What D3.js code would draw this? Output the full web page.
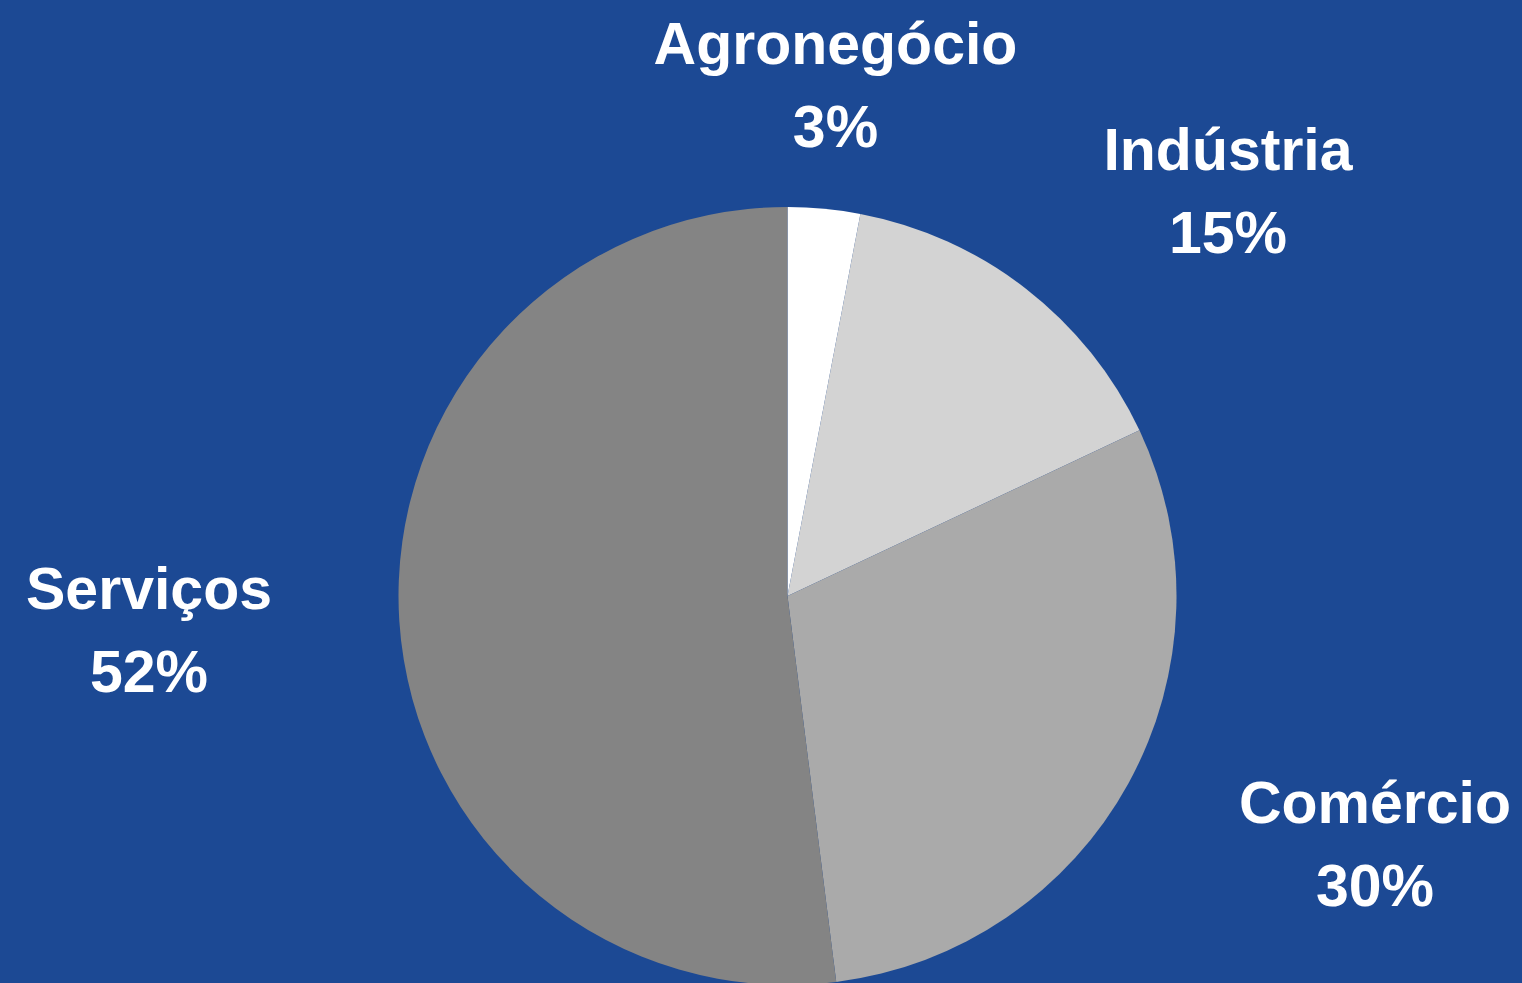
<!DOCTYPE html>
<html>
<head>
<meta charset="utf-8">
<script src="https://cdn.jsdelivr.net/npm/d3@7"></script>
<style>
html,body{margin:0;padding:0;background:#1c4994;overflow:hidden;}
svg{display:block;}
</style>
</head>
<body>
<svg id="chart" width="1522" height="983"></svg>
<script>
const categories = ["Agronegócio", "Indústria", "Comércio", "Serviços"];
const values = [3, 15, 30, 52];
const colors = ["#ffffff", "#d3d3d3", "#aaaaaa", "#848484"];
// label layout: center x and baseline of first line
const labelPos = [[835.5, 64], [1228, 170], [1375, 823], [149, 609]];

const W = 1522, H = 983;
const cx = 787.5, cy = 596, R = 389;
const svg = d3.select("#chart");
svg.append("rect").attr("width", W).attr("height", H).attr("fill", "#1c4994");

const data = categories.map((c, i) => ({cat: c, val: values[i], color: colors[i], pos: labelPos[i]}));
const pie = d3.pie().value(d => d.val).sort(null);
const arc = d3.arc().innerRadius(0).outerRadius(R);

const g = svg.append("g").attr("transform", `translate(${cx},${cy})`);
g.selectAll("path").data(pie(data)).join("path")
  .attr("d", arc)
  .attr("fill", d => d.data.color);

const total = d3.sum(values);
const lbl = svg.append("g")
  .attr("font-family", "'Liberation Sans', Arial, sans-serif")
  .attr("font-weight", "bold")
  .attr("font-size", 59)
  .attr("fill", "#ffffff")
  .attr("text-anchor", "middle");
data.forEach(d => {
  const t = lbl.append("text").attr("x", d.pos[0]).attr("y", d.pos[1]);
  t.append("tspan").attr("x", d.pos[0]).text(d.cat);
  t.append("tspan").attr("x", d.pos[0]).attr("dy", 83).text(Math.round(d.val / total * 100) + "%");
});
</script>
</body>
</html>
